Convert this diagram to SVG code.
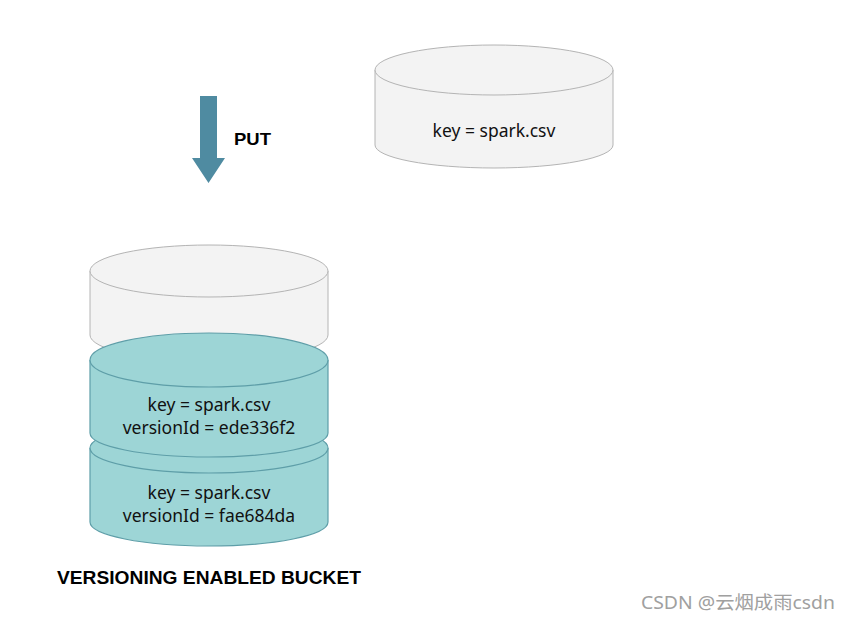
<svg xmlns="http://www.w3.org/2000/svg" width="850" height="621" viewBox="0 0 850 621">
<style>
.grey{fill:#f3f3f3;stroke:#b4b4b4;stroke-width:1}
.teal{fill:#9dd5d6;stroke:#5e9ea8;stroke-width:1.2}
.lbl{font-family:"Noto Sans",sans-serif;font-size:17.5px;fill:#111;text-anchor:middle}
.bold{font-family:"Liberation Sans",Arial,sans-serif;font-weight:bold;fill:#000}
</style>
<rect width="850" height="621" fill="#fff"/>
<g id="object">
<path class="grey" d="M375,70 L375,145 A119,23 0 0 0 613,145 L613,70"/>
<ellipse class="grey" cx="494" cy="70" rx="119" ry="25"/>
<text class="lbl" x="494" y="137">key = spark.csv</text>
</g>
<g id="put-arrow">
<path d="M200,96 L217,96 L217,158 L225,158 L208.5,183 L192,158 L200,158 Z" fill="#4f8ba1"/>
<text class="bold" x="234" y="145" font-size="17" textLength="37" lengthAdjust="spacingAndGlyphs">PUT</text>
</g>
<g id="bucket">
<path class="grey" d="M90,271 L90,335 A119,26 0 0 0 328,335 L328,271"/>
<ellipse class="grey" cx="209" cy="271" rx="119" ry="26"/>
<g id="version2">
<path class="teal" d="M90,448 L90,522 A119,24 0 0 0 328,522 L328,448"/>
<ellipse class="teal" cx="209" cy="448" rx="119" ry="25"/>
<text class="lbl" x="209" y="499">key = spark.csv</text>
<text class="lbl" x="209" y="522">versionId = fae684da</text>
</g>
<g id="version1">
<path class="teal" d="M90,360 L90,433 A119,24 0 0 0 328,433 L328,360"/>
<ellipse class="teal" cx="209" cy="360" rx="119" ry="27"/>
<text class="lbl" x="209" y="411">key = spark.csv</text>
<text class="lbl" x="209" y="434">versionId = ede336f2</text>
</g>
<text class="bold" x="209" y="584" font-size="18" text-anchor="middle" textLength="304" lengthAdjust="spacingAndGlyphs">VERSIONING ENABLED BUCKET</text>
</g>
<text x="835" y="609" font-family="'Noto Sans','Noto Sans CJK SC',sans-serif" font-size="18" fill="#a0a0a0" text-anchor="end" textLength="194" lengthAdjust="spacingAndGlyphs">CSDN @云烟成雨csdn</text>
</svg>
